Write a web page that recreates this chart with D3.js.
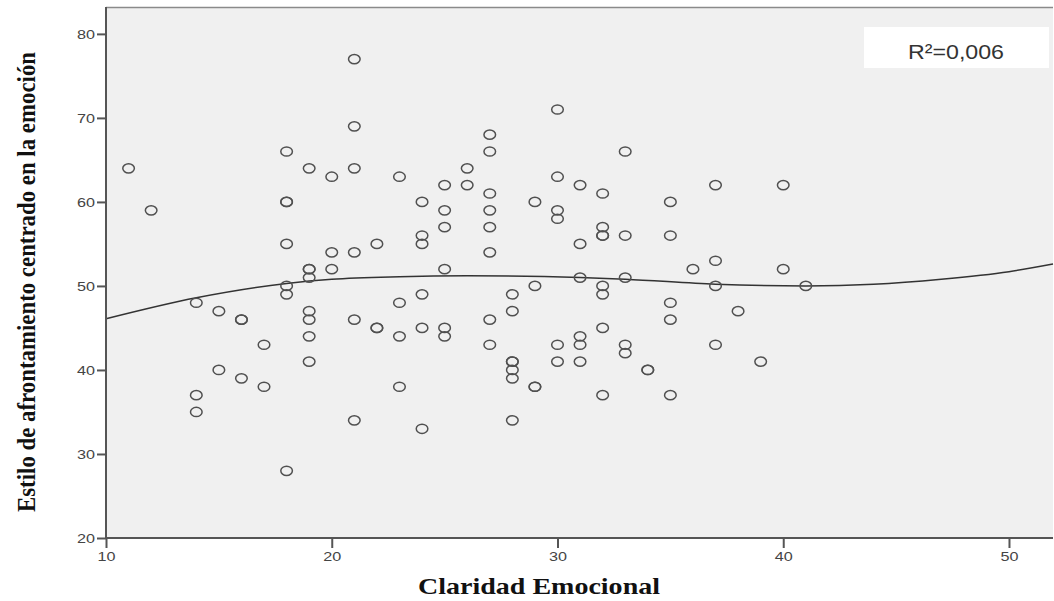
<!DOCTYPE html>
<html><head><meta charset="utf-8">
<script src="https://cdn.jsdelivr.net/npm/d3@7"></script>
<style>body{margin:0;background:#fff}svg{display:block}</style>
</head><body>
<script>
// Claridad Emocional (x) and Estilo de afrontamiento centrado en la emoción (y)
const xVals = [11,12,14,14,14,15,15,16,16,16,17,17,
  18,18,18,18,18,18,18,
  19,19,19,19,19,19,19,19,
  20,20,20,
  21,21,21,21,21,21,
  22,22,22,
  23,23,23,23,
  24,24,24,24,24,24,
  25,25,25,25,25,25,
  26,26,
  27,27,27,27,27,27,27,27,
  28,28,28,28,28,28,28,
  29,29,29,29,
  30,30,30,30,30,30,
  31,31,31,31,31,31,
  32,32,32,32,32,32,32,32,
  33,33,33,33,33,
  34,34,
  35,35,35,35,35,
  36,
  37,37,37,37,
  38,39,40,40,41];
const yVals = [64,59,48,37,35,47,40,46,46,39,43,38,
  66,60,60,55,50,49,28,
  64,52,52,51,47,46,44,41,
  63,54,52,
  77,69,64,54,46,34,
  55,45,45,
  63,48,44,38,
  60,56,55,49,45,33,
  62,59,57,52,45,44,
  64,62,
  68,66,61,59,57,54,46,43,
  49,47,41,41,40,39,34,
  60,50,38,38,
  71,63,59,58,43,41,
  62,55,51,44,43,41,
  61,57,56,56,50,49,45,37,
  66,56,51,43,42,
  40,40,
  60,56,48,46,37,
  52,
  62,53,50,43,
  47,41,62,52,50];
// cubic fit curve
const fitX = [10, 14, 18, 20, 23, 26, 31, 33, 37, 41, 44, 47, 50, 51.95];
const fitY = [46.1, 48.6, 50.3, 50.8, 51.1, 51.2, 51.0, 50.8, 50.2, 50.0, 50.2, 50.8, 51.7, 52.6];
const xTicks = [10,20,30,40,50];
const yTicks = [20,30,40,50,60,70,80];
const xTitle = "Claridad Emocional";
const yTitle = "Estilo de afrontamiento centrado en la emoción";
const rsqLabel = "R²=0,006";

(function () {
const W = 1054, H = 601;
const svg = d3.select("body").append("svg").attr("width", W).attr("height", H);
const pL = 106, pR = 1053, pT = 7, pB = 538;
const x = d3.scaleLinear().domain([10, 51.95]).range([pL, pR]);
const y = d3.scaleLinear().domain([20, 83.2]).range([pB, pT]);

svg.append("rect").attr("x", pL).attr("y", pT).attr("width", pR - pL).attr("height", pB - pT)
  .attr("fill", "#f0f0f0");
svg.append("line").attr("x1", pL).attr("x2", pR).attr("y1", pT + 0.5).attr("y2", pT + 0.5)
  .attr("stroke", "#8a8a8a").attr("stroke-width", 1.5);

const line = d3.line().x((d, i) => x(d)).y((d, i) => y(fitY[i])).curve(d3.curveMonotoneX);
svg.append("path").datum(fitX).attr("d", line).attr("fill", "none").attr("stroke", "#333").attr("stroke-width", 1.5);

svg.append("g").selectAll("ellipse").data(xVals.map((v, i) => [v, yVals[i]])).join("ellipse")
  .attr("cx", d => x(d[0])).attr("cy", d => y(d[1])).attr("rx", 5.8).attr("ry", 4.6)
  .attr("fill", "none").attr("stroke", "#505050").attr("stroke-width", 1.5);

const xAxis = svg.append("g").attr("transform", `translate(0,${pB})`)
  .call(d3.axisBottom(x).tickValues(xTicks).tickSize(10).tickPadding(4));
const yAxis = svg.append("g").attr("transform", `translate(${pL},0)`)
  .call(d3.axisLeft(y).tickValues(yTicks).tickSize(9).tickPadding(2));
[xAxis, yAxis].forEach(g => {
  g.select(".domain").attr("stroke", "#555").attr("stroke-width", 2);
  g.selectAll(".tick line").attr("stroke", "#555").attr("stroke-width", 2);
  g.selectAll(".tick text").attr("fill", "#444").style("font-family", "Liberation Sans, Arial, sans-serif")
    .style("font-size", "13px").attr("textLength", 18).attr("lengthAdjust", "spacingAndGlyphs");
});
xAxis.select(".domain").attr("d", `M${pL},0H${pR}`);
yAxis.select(".domain").attr("d", `M0,${pB}V${pT}`);

svg.append("text").attr("x", 539).attr("y", 594).attr("text-anchor", "middle")
  .style("font-family", "Liberation Serif, Times New Roman, serif").style("font-weight", "bold").style("font-size", "23px")
  .attr("textLength", 242).attr("lengthAdjust", "spacingAndGlyphs")
  .attr("fill", "#111").text(xTitle);
svg.append("text").attr("transform", "translate(35,282) rotate(-90)").attr("text-anchor", "middle")
  .style("font-family", "Liberation Serif, Times New Roman, serif").style("font-weight", "bold").style("font-size", "25px")
  .attr("textLength", 460).attr("lengthAdjust", "spacingAndGlyphs")
  .attr("fill", "#111").text(yTitle);

svg.append("rect").attr("x", 864).attr("y", 27).attr("width", 185).attr("height", 41).attr("fill", "#fff");
svg.append("text").attr("x", 956).attr("y", 59).attr("text-anchor", "middle")
  .style("font-family", "Liberation Sans, Arial, sans-serif").style("font-size", "20px")
  .attr("textLength", 96).attr("lengthAdjust", "spacingAndGlyphs")
  .attr("fill", "#333").text(rsqLabel);
})();
</script>
</body></html>
